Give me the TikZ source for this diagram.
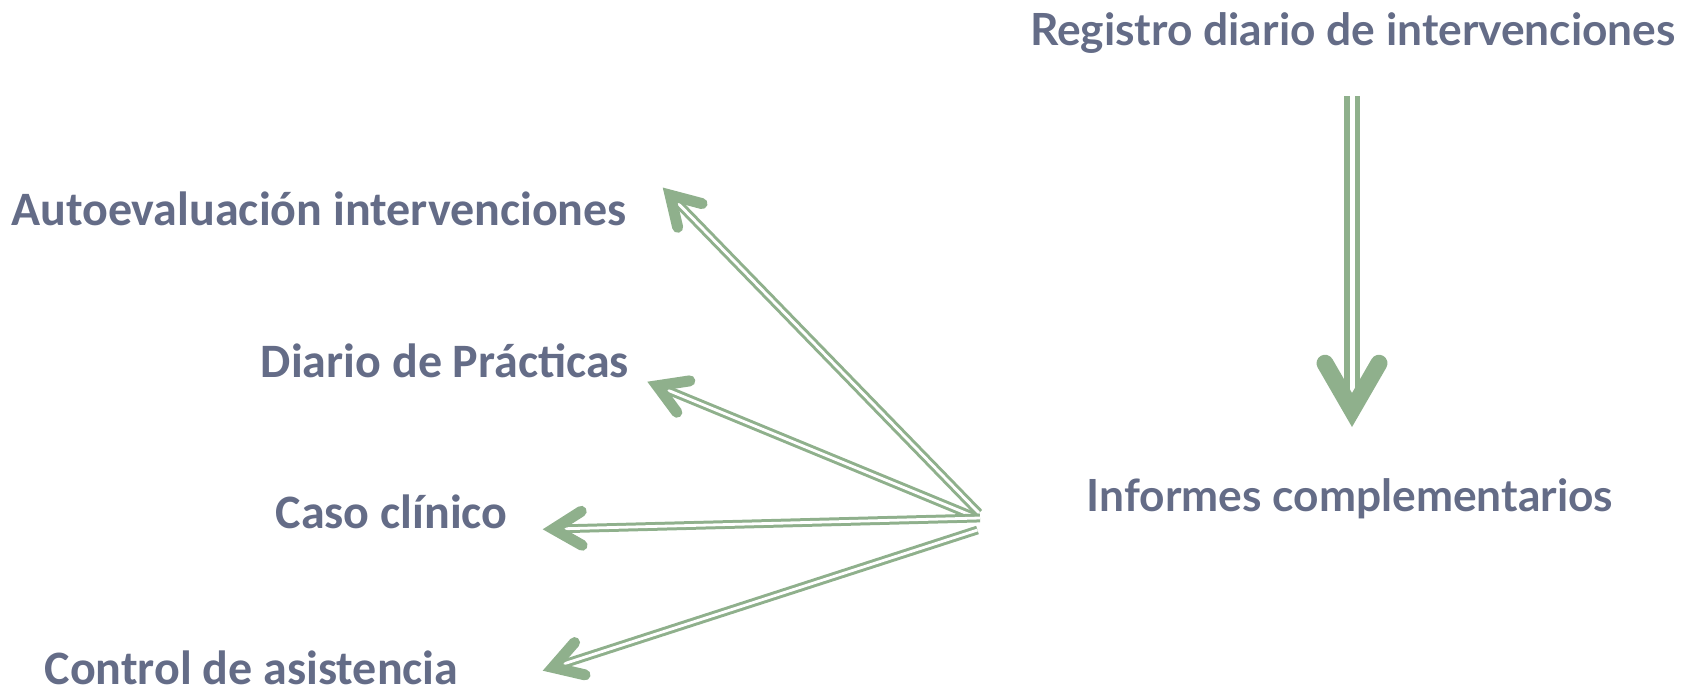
\documentclass[tikz,border=0pt]{standalone}
\usepackage{fontspec}
\setmainfont{Carlito}
\newfontfamily\rightfont{Lato}
\usetikzlibrary{calc}
\definecolor{txtc}{RGB}{100,108,135}
\definecolor{arrc}{RGB}{143,176,140}
\newcommand{\barbhead}[5]{%
  \draw[draw=arrc,line width=#5,line cap=round,line join=miter,miter limit=20]
    ($(#1)!#3!#4:(#2)$) -- (#1) -- ($(#1)!#3!-#4:(#2)$);}
\begin{document}
\begin{tikzpicture}[x=1pt,y=-1pt,
  lefttxt/.style={anchor=base,text=txtc,inner sep=0pt,
    font=\fontsize{48}{56}\selectfont\bfseries},
  righttxt/.style={anchor=base,text=txtc,inner sep=0pt,
    font=\rightfont\fontsize{44.3}{52}\selectfont\bfseries},
  thinshaft/.style={draw=arrc,double=white,line width=3pt,double distance=2.8pt},
  thickshaft/.style={draw=arrc,double=white,line width=5.7pt,double distance=5pt},
  ]
\useasboundingbox (0,0) rectangle (1689,691);

% texts
\node[righttxt] (reg) at (1353,45) {Registro diario de intervenciones};
\node[righttxt] (inf) at (1350,511) {Informes complementarios};
\node[lefttxt] (auto) at (319,225) {Autoevaluación intervenciones};
\node[lefttxt] (diario) at (445,377) {Diario de Prácticas};
\node[lefttxt] (caso) at (391.5,528) {Caso clínico};
\node[lefttxt] (control) at (251.5,684) {Control de asistencia};

% hub points and tips
\coordinate (h1) at (979,513);
\coordinate (h2) at (974,516.5);
\coordinate (h3) at (980,518);
\coordinate (h4) at (977.5,530);
\coordinate (o1) at (662.7,187.5);
\coordinate (o2) at (647.3,381.7);
\coordinate (o3) at (542.7,529.3);
\coordinate (o4) at (542.7,670.7);
\coordinate (v1) at ($(o1)!10.7pt!(h1)$);
\coordinate (v2) at ($(o2)!10.7pt!(h2)$);
\coordinate (v3) at ($(o3)!10.7pt!(h3)$);
\coordinate (v4) at ($(o4)!10.7pt!(h4)$);
\coordinate (vtop) at (1352,96);
\coordinate (vtip) at (1352,410);

% shafts
\draw[thickshaft] (vtop) -- (vtip);
\draw[thinshaft] (h1) -- (v1);
\draw[thinshaft] (h2) -- (v2);
\draw[thinshaft] (h3) -- (v3);
\draw[thinshaft] (h4) -- (v4);

% heads
\barbhead{vtip}{vtop}{54pt}{30}{17pt}
\barbhead{v1}{h1}{33pt}{31}{11pt}
\barbhead{v2}{h2}{33pt}{31}{11pt}
\barbhead{v3}{h3}{33pt}{31}{11pt}
\barbhead{v4}{h4}{33pt}{31}{11pt}
\end{tikzpicture}
\end{document}
